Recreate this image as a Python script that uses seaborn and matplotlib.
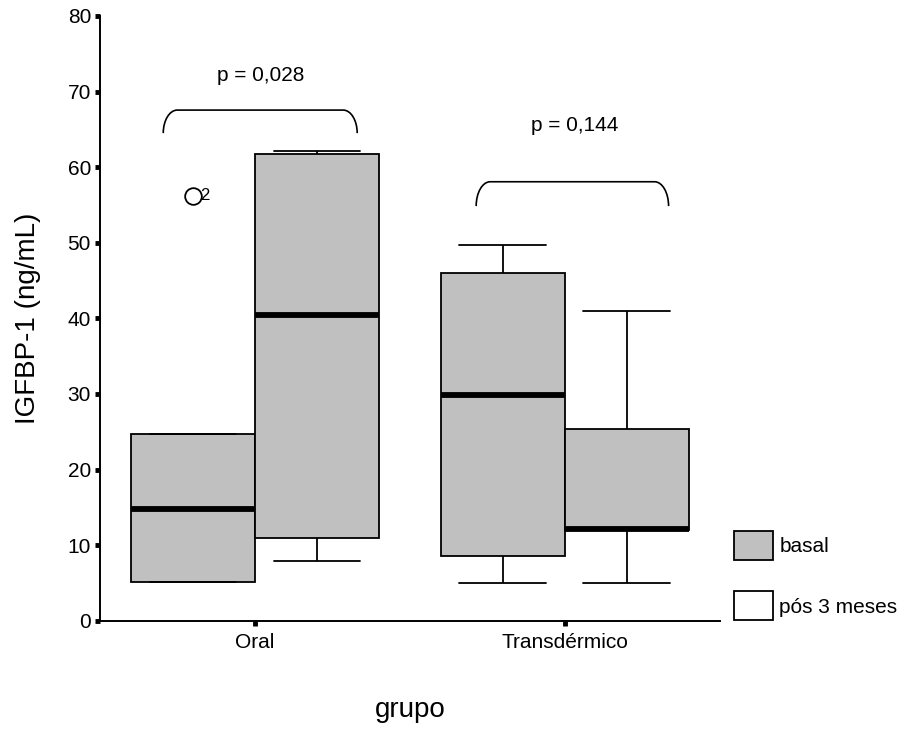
import matplotlib
matplotlib.use("Agg")
import matplotlib.pyplot as plt
from matplotlib.patches import Patch, PathPatch
from matplotlib.path import Path
import seaborn as sns
import pandas as pd

# Observations per group and time point
grupos = ["Oral", "Transdérmico"]
tempos = ["basal", "pós 3 meses"]
oral_basal = [5.1, 5.1, 14.8, 24.7, 56.2]
oral_pos = [7.9, 10.9, 40.4, 61.7, 62.2]
transd_basal = [5.0, 8.5, 29.9, 46.0, 49.7]
transd_pos = [5.0, 12.0, 12.1, 25.4, 41.0]
caso_atipico = "2"
p_valores = ["p = 0,028", "p = 0,144"]
y_ticks = [0, 10, 20, 30, 40, 50, 60, 70, 80]

rows = []
for g, t, vals in [(grupos[0], tempos[0], oral_basal),
                   (grupos[0], tempos[1], oral_pos),
                   (grupos[1], tempos[0], transd_basal),
                   (grupos[1], tempos[1], transd_pos)]:
    for v in vals:
        rows.append({"grupo": g, "tempo": t, "valor": v})
df = pd.DataFrame(rows)

sns.set_theme(style="white")
plt.rcParams["font.family"] = ["Liberation Sans", "DejaVu Sans"]
plt.rcParams["text.color"] = "black"
plt.rcParams["axes.labelcolor"] = "black"

GRAY = "#c0c0c0"
fig = plt.figure(figsize=(9.07, 7.33), dpi=100)
ax = fig.add_axes([0.1103, 0.1532, 0.6832, 0.825])

sns.boxplot(data=df, x="grupo", y="valor", hue="tempo", order=grupos,
            hue_order=tempos, palette=[GRAY, GRAY], saturation=1,
            width=0.8, gap=0, linecolor="black", linewidth=1.3,
            whis=1.5, fliersize=12, legend=False, ax=ax,
            flierprops=dict(marker="o", markerfacecolor="none",
                            markeredgecolor="black", markeredgewidth=1.3),
            medianprops=dict(linewidth=4.2, color="black", solid_capstyle="butt"),
            capwidths=0.28)

# Case label beside the outlier
ax.text(-0.178, 56.3, caso_atipico, ha="left", va="center", fontsize=12,
        color="black")


def chave(ax, x0, x1, y_end, y_top, rx=0.045):
    k = 0.55
    ry = y_top - y_end
    verts = [(x0, y_end),
             (x0, y_end + k * ry), (x0 + rx - k * rx, y_top), (x0 + rx, y_top),
             (x1 - rx, y_top),
             (x1 - rx + k * rx, y_top), (x1, y_end + k * ry), (x1, y_end)]
    codes = [Path.MOVETO,
             Path.CURVE4, Path.CURVE4, Path.CURVE4,
             Path.LINETO,
             Path.CURVE4, Path.CURVE4, Path.CURVE4]
    ax.add_patch(PathPatch(Path(verts, codes), facecolor="none",
                           edgecolor="black", linewidth=1.2, clip_on=False))


chave(ax, -0.296, 0.330, 64.5, 67.55)
chave(ax, 0.714, 1.335, 54.85, 58.07)
ax.text(0.017, 72.1, p_valores[0], ha="center", va="center", fontsize=15,
        color="black")
ax.text(1.033, 65.5, p_valores[1], ha="center", va="center", fontsize=15,
        color="black")

ax.set_xlim(-0.5, 1.5)
ax.set_ylim(0, 80)
ax.set_yticks(y_ticks)
ax.set_xticks([0, 1])
ax.set_xticklabels(grupos)

for s in ["top", "right"]:
    ax.spines[s].set_visible(False)
for s in ["left", "bottom"]:
    ax.spines[s].set_color("black")
    ax.spines[s].set_linewidth(1.4)

ax.tick_params(axis="both", which="major", bottom=True, left=True,
               direction="out", length=3.5, width=3.5,
               color="black", labelsize=15, labelcolor="black")
ax.tick_params(axis="y", pad=3)
ax.tick_params(axis="x", pad=5)

ax.set_ylabel("IGFBP-1 (ng/mL)", fontsize=20, color="black")
ax.set_xlabel("grupo", fontsize=20, color="black")
ax.yaxis.set_label_coords(-0.095, 0.5)
ax.xaxis.set_label_coords(0.5, -0.126)

handles = [Patch(facecolor=GRAY, edgecolor="black", linewidth=1.3, label=tempos[0]),
           Patch(facecolor="white", edgecolor="black", linewidth=1.3, label=tempos[1])]
leg = fig.legend(handles=handles, loc="upper left",
                 bbox_to_anchor=(734 / 907, 1 - 531 / 733), frameon=False,
                 fontsize=15, handlelength=1.87, handleheight=1.77,
                 handletextpad=0.3, labelspacing=1.5, borderpad=0,
                 borderaxespad=0, labelcolor="black")

fig.savefig("out.png", dpi=100, facecolor="white")
